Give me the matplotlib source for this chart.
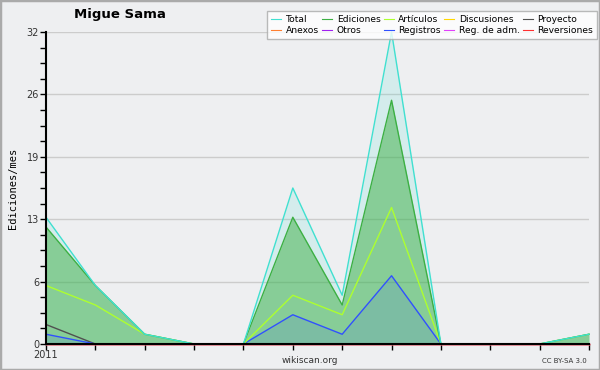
from matplotlib import pyplot as plt
from matplotlib.patches import Rectangle
import numpy as np

# meses de 2011
months = list(range(12))
x_labels = ["2011"] + [""] * 11

total = [13, 6, 1, 0, 0, 16, 5, 32, 0, 0, 0, 1]
ediciones = [12, 6, 1, 0, 0, 13, 4, 25, 0, 0, 0, 1]
articulos = [6, 4, 1, 0, 0, 5, 3, 14, 0, 0, 0, 1]
discusiones = [0] * 12
proyecto = [2, 0, 0, 0, 0, 0, 0, 0, 0, 0, 0, 0]
anexos = [0] * 12
otros = [0] * 12
registros = [1, 0, 0, 0, 0, 3, 1, 7, 0, 0, 0, 0]
reg_adm = [0] * 12
reversiones = [0] * 12

y_ticks = [0, 6.4, 12.8, 19.2, 25.6, 32]
y_labels = ["0", "6", "13", "19", "26", "32"]

bg = "#eeeff1"
fig = plt.figure(figsize=(6, 3.7), dpi=100, facecolor=bg)
ax = fig.add_axes([46 / 600, 26 / 370, 543 / 600, 312 / 370])
ax.set_facecolor(bg)

# rellenos
ax.fill_between(months, total, color="#40e0d0", alpha=0.15, lw=0)
ax.fill_between(months, ediciones, color="#3cb043", alpha=0.5, lw=0)
ax.fill_between(months, registros, color="#3050ff", alpha=0.12, lw=0)

series = [
    ("Total", total, "#40e0d0"),
    ("Anexos", anexos, "#ff7f30"),
    ("Ediciones", ediciones, "#3cb043"),
    ("Otros", otros, "#a020f0"),
    ("Artículos", articulos, "#adff2f"),
    ("Registros", registros, "#3050ff"),
    ("Discusiones", discusiones, "#ffd700"),
    ("Reg. de adm.", reg_adm, "#e040fb"),
    ("Proyecto", proyecto, "#505050"),
    ("Reversiones", reversiones, "#ff3030"),
]
# dibujar en orden inverso para que Total quede arriba
for name, vals, col in reversed(series):
    ax.plot(months, vals, color=col, lw=1, label=name, clip_on=False)

ax.set_xlim(0, 11)
ax.set_ylim(0, 32)
ax.set_xticks(months)
ax.set_xticklabels(x_labels)
ax.set_yticks(y_ticks)
ax.set_yticklabels(y_labels)
ax.set_yticks(np.arange(0, 32.1, 1.6), minor=True)
ax.tick_params(axis="both", labelsize=7, length=4, width=1, color="black",
               labelcolor="#333333", pad=1)
ax.tick_params(axis="y", which="minor", length=4, width=1)
ax.tick_params(axis="x", pad=0)
ax.grid(axis="y", color="#cccccc", lw=1)
ax.set_axisbelow(True)
for s in ["top", "right"]:
    ax.spines[s].set_visible(False)
for s in ["left", "bottom"]:
    ax.spines[s].set_linewidth(1.5)
    ax.spines[s].set_zorder(5)

ax.set_ylabel("Ediciones/mes", family="DejaVu Sans Mono", fontsize=7.5, labelpad=6)

fig.text(0.2, 0.962, "Migue Sama", fontsize=9.5, fontweight="bold", ha="center", va="center")
fig.text(0.517, 0.025, "wikiscan.org", fontsize=6.5, color="#333333", ha="center", va="center")
fig.text(0.978, 0.025, "CC BY-SA 3.0", fontsize=5, color="#333333", ha="right", va="center")

handles, labels = ax.get_legend_handles_labels()
order = {name: i for i, (name, _, _) in enumerate(series)}
pairs = sorted(zip(handles, labels), key=lambda p: order[p[1]])
leg = fig.legend([p[0] for p in pairs], [p[1] for p in pairs], ncol=5,
                 loc="upper right", bbox_to_anchor=(0.995, 0.97), fontsize=6.6,
                 frameon=True, fancybox=False, edgecolor="#aaaaaa",
                 handlelength=1.1, handletextpad=0.5, columnspacing=0.35,
                 labelspacing=0.25, borderpad=0.4, borderaxespad=0)
leg.get_frame().set_linewidth(1)
for line in leg.get_lines():
    line.set_linewidth(0.8)

fig.patches.append(Rectangle((0, 0), 1, 1, transform=fig.transFigure, fill=False,
                             edgecolor="#aaaaaa", lw=2.5))

fig.savefig("out.png", dpi=100, facecolor=bg)
